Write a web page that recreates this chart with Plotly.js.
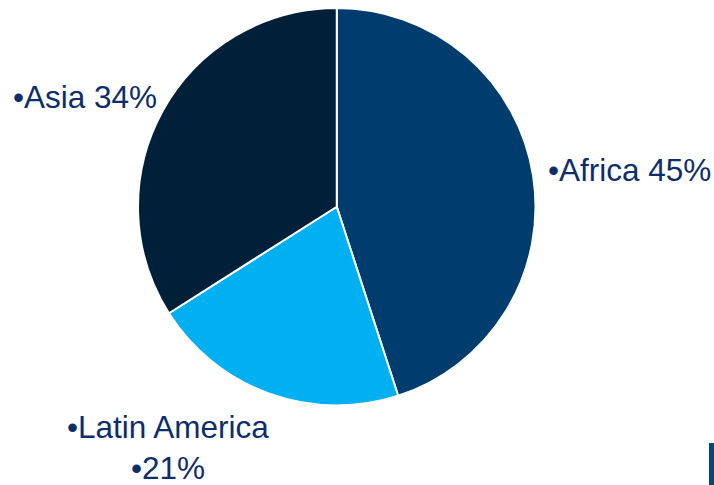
<!DOCTYPE html>
<html><head><meta charset="utf-8">
<script src="https://cdn.plot.ly/plotly-3.0.1.min.js"></script>
<style>html,body{margin:0;padding:0;background:#fff;}#chart{width:714px;height:485px;}</style>
</head><body><div id="chart"></div>
<script>
const regions = ["Africa", "Latin America", "Asia"];
const shares = [45, 21, 34];
const sliceColors = ["#003C6E", "#00B0F0", "#002039"];
const labelTexts = ["•Africa 45%", "•Latin America<br>•21%", "•Asia 34%"];

const trace = {
  type: "pie",
  labels: regions,
  values: shares,
  sort: false,
  direction: "clockwise",
  rotation: 0,
  textinfo: "none",
  hoverinfo: "label+percent",
  marker: {colors: sliceColors, line: {color: "#ffffff", width: 2}},
  domain: {x: [0.1933, 0.7500], y: [0.163, 0.9845]},
  showlegend: false
};
const font = {family: "Liberation Sans, Arial, sans-serif", size: 31.5, color: "#0E2D6B"};
const layout = {
  width: 714, height: 485,
  margin: {l: 0, r: 0, t: 0, b: 0},
  paper_bgcolor: "#ffffff",
  showlegend: false,
  annotations: [
    {text: labelTexts[0], x: 546/714, y: 1 - 170/485, xref: "paper", yref: "paper", xanchor: "left", yanchor: "middle", showarrow: false, font: font},
    {text: labelTexts[1], x: 168/714, y: 1 - 447/485, xref: "paper", yref: "paper", xanchor: "center", yanchor: "middle", align: "center", showarrow: false, font: font},
    {text: labelTexts[2], x: 11/714, y: 1 - 97/485, xref: "paper", yref: "paper", xanchor: "left", yanchor: "middle", showarrow: false, font: font}
  ],
  shapes: [
    {type: "rect", xref: "paper", yref: "paper", x0: 709/714, x1: 1, y0: 0, y1: 1 - 443/485, fillcolor: "#00467F", line: {width: 0}}
  ]
};
Plotly.newPlot("chart", [trace], layout, {displayModeBar: false, staticPlot: true});
</script></body></html>
